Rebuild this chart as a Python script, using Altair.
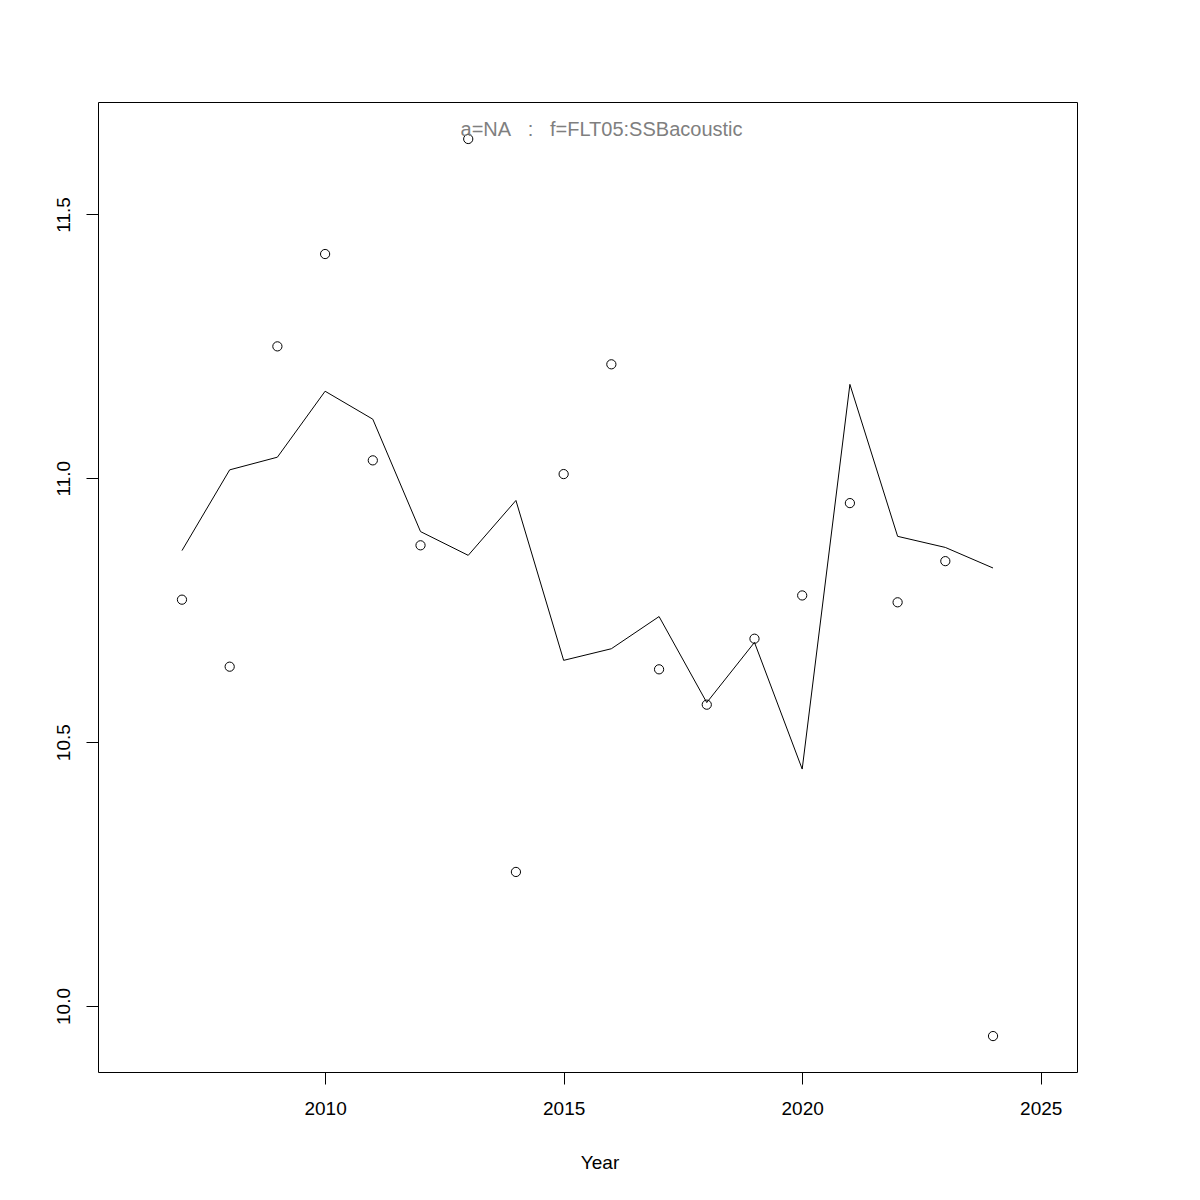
import altair as alt
import pandas as pd

years = [2007, 2008, 2009, 2010, 2011, 2012, 2013, 2014, 2015, 2016,
         2017, 2018, 2019, 2020, 2021, 2022, 2023, 2024]
observed = [10.770, 10.643, 11.250, 11.425, 11.034, 10.873, 11.643, 10.254, 11.008,
            11.216, 10.638, 10.571, 10.696, 10.778, 10.953, 10.765, 10.843, 9.943]
fitted = [10.863, 11.016, 11.040, 11.165, 11.112, 10.899, 10.854, 10.958, 10.655,
          10.677, 10.738, 10.575, 10.689, 10.449, 11.178, 10.890, 10.869, 10.830]
x_ticks = [2010, 2015, 2020, 2025]
y_ticks = [10.0, 10.5, 11.0, 11.5]
title_text = "a=NA\u00a0\u00a0\u00a0:\u00a0\u00a0\u00a0f=FLT05:SSBacoustic"

df = pd.DataFrame({"Year": years, "obs": observed, "fit": fitted})

FONT = "Liberation Sans"

xscale = alt.Scale(domain=[2005.24, 2025.76], nice=False, zero=False)
yscale = alt.Scale(domain=[9.8749, 11.7131], nice=False, zero=False)

xaxis = alt.Axis(values=x_ticks, format="d", grid=False, domain=False,
                 tickSize=12, tickColor="black", tickWidth=1,
                 labelFont=FONT, labelFontSize=19, labelColor="black",
                 labelBaseline="top", labelPadding=15, labelFlush=False,
                 title="Year", titleFont=FONT, titleFontSize=19,
                 titleFontWeight="normal", titleColor="black",
                 titleBaseline="alphabetic", titleX=501.5, titleY=96,
                 titleAnchor="start", titleAlign="center")
yaxis = alt.Axis(values=y_ticks, format=".1f", grid=False, domain=False,
                 tickSize=12, tickColor="black", tickWidth=1,
                 labelFont=FONT, labelFontSize=19, labelColor="black",
                 labelAngle=270, labelAlign="center", labelBaseline="alphabetic",
                 labelPadding=17, labelFlush=False, title=None)

base = alt.Chart(df)

line = base.mark_line(color="black", strokeWidth=1).encode(
    x=alt.X("Year:Q", scale=xscale, axis=xaxis),
    y=alt.Y("fit:Q", scale=yscale, axis=yaxis),
)
points = base.mark_point(shape="circle", filled=False, color="black",
                         strokeWidth=1, size=85, opacity=1).encode(
    x=alt.X("Year:Q", scale=xscale),
    y=alt.Y("obs:Q", scale=yscale),
)
label = alt.Chart(pd.DataFrame({"t": [title_text]})).mark_text(
    font=FONT, fontSize=20, color="#7f7f7f", align="center",
    baseline="alphabetic",
).encode(x=alt.value(503.5), y=alt.value(34), text="t:N")

chart = alt.layer(line, points, label).properties(
    width=979, height=970,
    autosize=alt.AutoSizeParams(type="none"),
    padding={"left": 90, "top": 94, "right": 115, "bottom": 120},
).configure(background="white").configure_view(stroke="black", strokeWidth=1)

chart.save("out.html", embed_options={"renderer": "svg", "actions": False})
